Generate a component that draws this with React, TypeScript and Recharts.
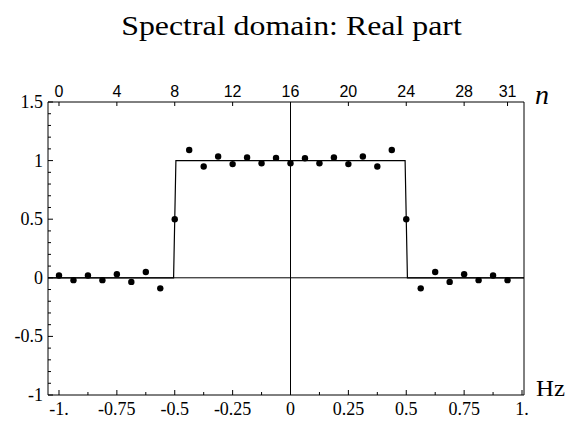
import React from 'react';
import { ComposedChart, Scatter, Line, XAxis, YAxis, ReferenceLine } from 'recharts';

// sample positions (Hz) and the real part of the spectrum at each
const hz = [-1, -0.9375, -0.875, -0.8125, -0.75, -0.6875, -0.625, -0.5625, -0.5, -0.4375, -0.375, -0.3125, -0.25, -0.1875, -0.125, -0.0625,
  0, 0.0625, 0.125, 0.1875, 0.25, 0.3125, 0.375, 0.4375, 0.5, 0.5625, 0.625, 0.6875, 0.75, 0.8125, 0.875, 0.9375];
const realPart = [0.02, -0.02, 0.02, -0.02, 0.03, -0.035, 0.05, -0.09, 0.5, 1.09, 0.95, 1.035, 0.97, 1.026, 0.978, 1.023,
  0.978, 1.02, 0.978, 1.026, 0.97, 1.035, 0.95, 1.09, 0.5, -0.09, 0.05, -0.035, 0.03, -0.02, 0.02, -0.02];

// ideal rectangle
const rectHz = [-1.05, -0.505, -0.495, 0.495, 0.505, 1.02];
const rectVal = [0, 0, 1, 1, 0, 0];

const hzMajor = [-1, -0.75, -0.5, -0.25, 0, 0.25, 0.5, 0.75, 1];
const hzMinor = [-0.875, -0.625, -0.375, -0.125, 0.125, 0.375, 0.625, 0.875];
const hzLabels = ['-1.', '-0.75', '-0.5', '-0.25', '0', '0.25', '0.5', '0.75', '1.'];
const nTicks = [0, 4, 8, 12, 16, 20, 24, 28, 31];
const yMajor = [-1, -0.5, 0, 0.5, 1, 1.5];
const yMinor = [-0.9, -0.8, -0.7, -0.6, -0.4, -0.3, -0.2, -0.1, 0.1, 0.2, 0.3, 0.4, 0.6, 0.7, 0.8, 0.9, 1.1, 1.2, 1.3, 1.4];
const yLabels = ['-1', '-0.5', '0', '0.5', '1', '1.5'];

const HZ_DOMAIN: [number, number] = [-1.0475, 1.0086];
const N_DOMAIN: [number, number] = [16 + 16 * HZ_DOMAIN[0], 16 + 16 * HZ_DOMAIN[1]];

const points = hz.map((h, i) => ({ hz: h, re: realPart[i] }));
const rect = rectHz.map((h, i) => ({ hz: h, v: rectVal[i] }));

const serif = '"Liberation Serif", "DejaVu Serif", serif';
const sans = '"Liberation Sans", Arial, sans-serif';

function BottomTick({ x, y, payload }: any) {
  const idx = hzMajor.indexOf(payload.value);
  const major = idx >= 0;
  return (
    <g>
      <line x1={x} y1={y} x2={x} y2={y - (major ? 5 : 3)} stroke="#000" />
      {major && (
        <text x={x} y={y + 20} textAnchor="middle" fontFamily={serif} fontSize={18} fill="#000">
          {hzLabels[idx]}
        </text>
      )}
    </g>
  );
}

function LeftTick({ x, y, payload }: any) {
  const idx = yMajor.indexOf(payload.value);
  const major = idx >= 0;
  return (
    <g>
      <line x1={x} y1={y} x2={x + (major ? 5 : 3)} y2={y} stroke="#000" />
      {major && (
        <text x={x - 5} y={y + 6} textAnchor="end" fontFamily={serif} fontSize={18} fill="#000">
          {yLabels[idx]}
        </text>
      )}
    </g>
  );
}

function TopTick({ x, y, payload }: any) {
  return (
    <g>
      <line x1={x} y1={y} x2={x} y2={y + 4} stroke="#000" />
      <text x={x} y={y - 5} textAnchor="middle" fontFamily={sans} fontSize={16} fill="#000">
        {payload.value}
      </text>
    </g>
  );
}

export default function App() {
  return (
    <div style={{ position: 'absolute', left: 0, top: 0, width: 571, height: 421, background: '#fff' }}>
      <div
        style={{
          position: 'absolute', left: 0, width: 583, top: 11, textAlign: 'center',
          fontFamily: serif, fontSize: 27, transform: 'scaleX(1.18)', transformOrigin: '291.5px 50%',
        }}
      >
        Spectral domain: Real part
      </div>
      <div style={{ position: 'absolute', left: 535, top: 79, fontFamily: serif, fontStyle: 'italic', fontSize: 28 }}>n</div>
      <div style={{ position: 'absolute', left: 536, top: 376, fontFamily: serif, fontSize: 23, transform: 'scaleX(1.08)', transformOrigin: '0 50%' }}>Hz</div>
      <ComposedChart width={571} height={421} margin={{ top: 72, right: 46, bottom: 0, left: 0 }}>
        <XAxis
          xAxisId="hz"
          dataKey="hz"
          type="number"
          domain={HZ_DOMAIN}
          allowDataOverflow
          ticks={[...hzMajor, ...hzMinor]}
          interval={0}
          height={26}
          tickLine={false}
          tickSize={0}
          tickMargin={0}
          axisLine={{ stroke: '#000' }}
          tick={(p: any) => <BottomTick {...p} />}
        />
        <XAxis
          xAxisId="n"
          dataKey="n"
          type="number"
          orientation="top"
          domain={N_DOMAIN}
          allowDataOverflow
          ticks={nTicks}
          interval={0}
          height={30}
          tickLine={false}
          tickSize={0}
          tickMargin={0}
          axisLine={{ stroke: '#000' }}
          tick={(p: any) => <TopTick {...p} />}
        />
        <YAxis
          yAxisId="left"
          type="number"
          domain={[-1, 1.5]}
          allowDataOverflow
          ticks={[...yMajor, ...yMinor]}
          interval={0}
          width={48}
          tickLine={false}
          tickSize={0}
          tickMargin={0}
          axisLine={{ stroke: '#000' }}
          tick={(p: any) => <LeftTick {...p} />}
        />
        <YAxis yAxisId="right" orientation="right" domain={[-1, 1.5]} width={1} tick={false} tickLine={false} axisLine={{ stroke: '#000' }} />
        <ReferenceLine xAxisId="hz" yAxisId="left" x={0} stroke="#000" />
        <ReferenceLine xAxisId="hz" yAxisId="left" y={0} stroke="#000" />
        <Line
          xAxisId="hz"
          yAxisId="left"
          data={rect}
          dataKey="v"
          type="linear"
          stroke="#000"
          strokeWidth={1.2}
          dot={false}
          isAnimationActive={false}
        />
        <Scatter
          xAxisId="hz"
          yAxisId="left"
          data={points}
          dataKey="re"
          isAnimationActive={false}
          shape={(p: any) => <circle cx={p.cx} cy={p.cy} r={3.2} fill="#000" />}
        />
      </ComposedChart>
    </div>
  );
}
